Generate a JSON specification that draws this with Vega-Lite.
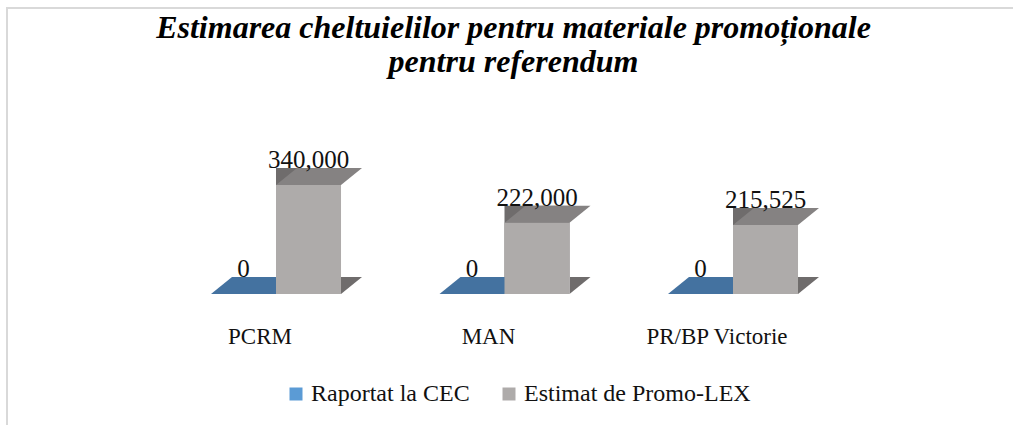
{
  "$schema": "https://vega.github.io/schema/vega-lite/v6.json",
  "width": 1013,
  "height": 425,
  "autosize": {"type": "none"},
  "padding": {"left": 7, "top": 8, "right": 0, "bottom": 0},
  "background": "white",
  "title": {
    "text": ["Estimarea cheltuielilor pentru materiale promoționale", "pentru referendum"],
    "anchor": "middle",
    "frame": "group",
    "baseline": "top",
    "offset": -71,
    "font": "Liberation Serif",
    "fontSize": 32,
    "fontWeight": "bold",
    "fontStyle": "italic",
    "lineHeight": 34,
    "color": "#000000"
  },
  "config": {
    "font": "Liberation Serif",
    "view": {"stroke": "#d9d9d9", "strokeWidth": 2},
    "legend": {
      "labelFont": "Liberation Serif",
      "labelFontSize": 24,
      "labelColor": "#111111",
      "labelLimit": 400,
      "symbolType": "square",
      "symbolSize": 169,
      "symbolStrokeWidth": 0,
      "labelOffset": 3,
      "columnPadding": 27
    }
  },
  "data": {
    "values": [
      {"category": "PCRM", "series": "Raportat la CEC", "value": 0},
      {"category": "PCRM", "series": "Estimat de Promo-LEX", "value": 340000},
      {"category": "MAN", "series": "Raportat la CEC", "value": 0},
      {"category": "MAN", "series": "Estimat de Promo-LEX", "value": 222000},
      {"category": "PR/BP Victorie", "series": "Raportat la CEC", "value": 0},
      {"category": "PR/BP Victorie", "series": "Estimat de Promo-LEX", "value": 215525}
    ]
  },
  "layer": [
    {
      "mark": {"type": "bar", "xOffset": 21, "x2Offset": 21, "yOffset": -17, "y2Offset": -17, "strokeWidth": 0},
      "encoding": {
        "x": {"field": "category", "type": "nominal", "sort": null, "axis": null,
              "scale": {"range": [154.75, 840.25], "paddingInner": 0.431, "paddingOuter": 0.2155}},
        "xOffset": {"field": "series", "type": "nominal", "sort": ["Raportat la CEC", "Estimat de Promo-LEX"],
                    "scale": {"paddingInner": 0, "paddingOuter": 0}},
        "y": {"field": "value", "type": "quantitative", "axis": null,
              "scale": {"domain": [0, 340000], "range": [286, 177], "nice": false, "zero": true}},
        "fill": {"condition": {"test": "datum.series === 'Raportat la CEC'", "value": "#2f5479"}, "value": "#6f6c6c"}
      }
    },
    {
      "mark": {"type": "point", "shape": "M 32.5 0 L 32.5 -17 L 53.5 -17 Z", "size": 4, "filled": true, "opacity": 1, "strokeWidth": 0},
      "encoding": {
        "x": {"field": "category", "type": "nominal", "sort": null, "axis": null},
        "xOffset": {"field": "series", "type": "nominal", "sort": ["Raportat la CEC", "Estimat de Promo-LEX"]},
        "y": {"datum": 0, "type": "quantitative"},
        "fill": {"condition": {"test": "datum.series === 'Raportat la CEC'", "value": "#4472a0"}, "value": "#6f6c6c"}
      }
    },
    {
      "mark": {"type": "point", "shape": "M -32.5 0 L 32.5 0 L 53.5 -17 L -11.5 -17 Z", "size": 4, "filled": true, "opacity": 1, "strokeWidth": 0},
      "encoding": {
        "x": {"field": "category", "type": "nominal", "sort": null, "axis": null},
        "xOffset": {"field": "series", "type": "nominal", "sort": ["Raportat la CEC", "Estimat de Promo-LEX"]},
        "y": {"field": "value", "type": "quantitative"},
        "fill": {"condition": {"test": "datum.series === 'Raportat la CEC'", "value": "#4472a0"}, "value": "#858282"}
      }
    },
    {
      "mark": {"type": "bar", "strokeWidth": 0},
      "encoding": {
        "x": {"field": "category", "type": "nominal", "sort": null, "axis": null},
        "xOffset": {"field": "series", "type": "nominal", "sort": ["Raportat la CEC", "Estimat de Promo-LEX"]},
        "y": {"field": "value", "type": "quantitative"},
        "color": {"field": "series", "type": "nominal", "sort": ["Raportat la CEC", "Estimat de Promo-LEX"],
                  "scale": {"domain": ["Raportat la CEC", "Estimat de Promo-LEX"], "range": ["#5b9bd5", "#aeabaa"]},
                  "legend": {"title": null, "orient": "none", "direction": "horizontal", "legendX": 277, "legendY": 374}}
      }
    },
    {
      "mark": {"type": "text", "dy": -17, "baseline": "alphabetic", "align": "center", "font": "Liberation Serif", "fontSize": 25, "color": "#111111"},
      "encoding": {
        "x": {"field": "category", "type": "nominal", "sort": null, "axis": null},
        "xOffset": {"field": "series", "type": "nominal", "sort": ["Raportat la CEC", "Estimat de Promo-LEX"]},
        "y": {"field": "value", "type": "quantitative"},
        "text": {"field": "value", "type": "quantitative", "format": ",d"}
      }
    },
    {
      "transform": [{"filter": "datum.series === 'Estimat de Promo-LEX'"}],
      "mark": {"type": "text", "dy": 50, "dx": -16, "baseline": "alphabetic", "align": "center", "font": "Liberation Serif", "fontSize": 23, "color": "#111111"},
      "encoding": {
        "x": {"field": "category", "type": "nominal", "sort": null, "axis": null},
        "y": {"datum": 0, "type": "quantitative"},
        "text": {"field": "category", "type": "nominal"}
      }
    }
  ]
}
